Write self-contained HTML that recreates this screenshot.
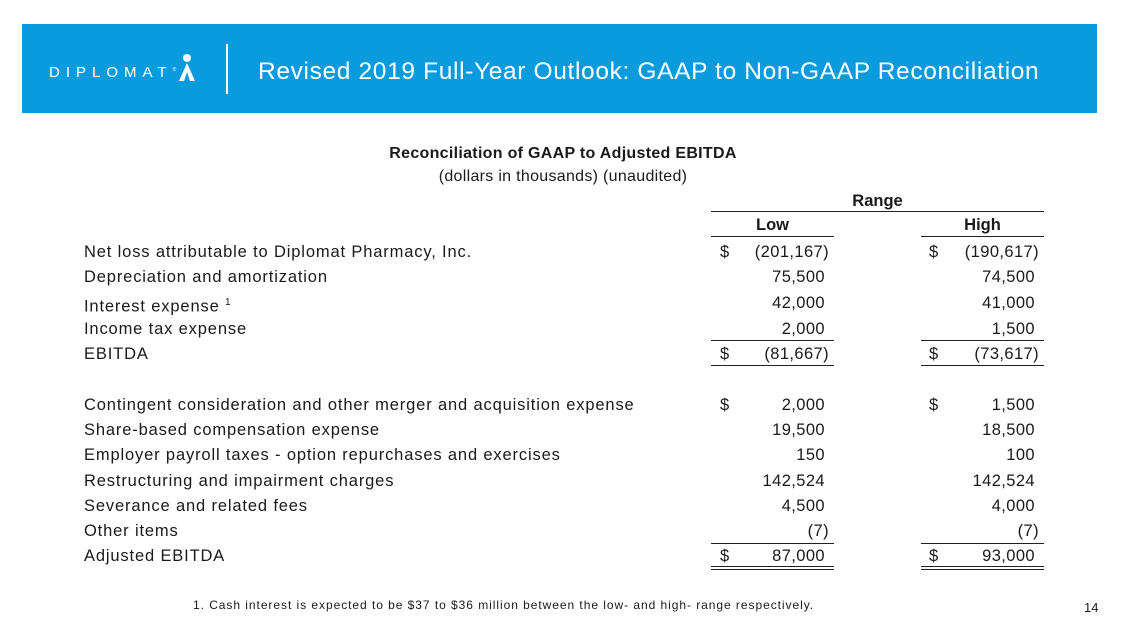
<!DOCTYPE html>
<html><head><meta charset="utf-8"><style>
body{margin:0;width:1125px;height:635px;background:#fff;position:relative;overflow:hidden;font-family:"Liberation Sans",sans-serif;color:#1a1a1a}
.a{position:absolute;white-space:nowrap}
.banner{position:absolute;left:22px;top:24px;width:1075px;height:89px;background:#0a9ade}
.r{font-size:16.5px;line-height:20px}
.ln{position:absolute;height:0;border-top:1.5px solid #222}
</style></head><body>
<div class="banner"></div>
<div class="a" style="left:49px;top:64px;color:#fff;font-size:15px;letter-spacing:6px">DIPLOMAT<sup style="font-size:5px;letter-spacing:0">®</sup></div>
<svg class="a" style="left:177px;top:52px" width="20" height="30" viewBox="0 0 20 30"><circle cx="10" cy="6" r="4" fill="#fff"/><path d="M10 11 L2 29 L7 29 L10 20 L13 29 L18 29 Z" fill="#fff"/></svg>
<div class="a" style="left:226px;top:44px;width:1.5px;height:50px;background:#fff"></div>
<div class="a" style="left:258px;top:58px;color:#fff;font-size:24.5px;letter-spacing:0.65px">Revised 2019 Full-Year Outlook: GAAP to Non-GAAP Reconciliation</div>
<div class="a" style="left:0;width:1126px;text-align:center;top:145px;font-size:16px;font-weight:bold;letter-spacing:0.3px">Reconciliation of GAAP to Adjusted EBITDA</div>
<div class="a" style="left:0;width:1126px;text-align:center;top:168px;font-size:16px;letter-spacing:0.3px">(dollars in thousands) (unaudited)</div>
<div class="a" style="left:711px;width:333px;text-align:center;top:192px;font-size:16.5px;font-weight:bold">Range</div>
<div class="ln" style="left:711px;width:333px;top:211px"></div>
<div class="a" style="left:711px;width:123px;text-align:center;top:216px;font-size:16.5px;font-weight:bold">Low</div>
<div class="a" style="left:921px;width:123px;text-align:center;top:216px;font-size:16.5px;font-weight:bold">High</div>
<div class="ln" style="left:711px;width:123px;top:236px"></div>
<div class="ln" style="left:921px;width:123px;top:236px"></div>
<div class="ln" style="left:711px;width:123px;top:340px"></div>
<div class="ln" style="left:921px;width:123px;top:340px"></div>
<div class="ln" style="left:711px;width:123px;top:365px"></div>
<div class="ln" style="left:921px;width:123px;top:365px"></div>
<div class="ln" style="left:711px;width:123px;top:543px"></div>
<div class="ln" style="left:921px;width:123px;top:543px"></div>
<div class="ln" style="left:711px;width:123px;top:566px"></div>
<div class="ln" style="left:921px;width:123px;top:566px"></div>
<div class="ln" style="left:711px;width:123px;top:569px"></div>
<div class="ln" style="left:921px;width:123px;top:569px"></div>
<div id="rows"></div>
<div class="a" style="left:193px;top:598px;font-size:12px;letter-spacing:0.95px">1. Cash interest is expected to be $37 to $36 million between the low- and high- range respectively.</div>
<div class="a" style="left:1084px;top:600px;font-size:13px">14</div>
<script>
const labels=["Net loss attributable to Diplomat Pharmacy, Inc.","Depreciation and amortization","Interest expense","Income tax expense","EBITDA","Contingent consideration and other merger and acquisition expense","Share-based compensation expense","Employer payroll taxes - option repurchases and exercises","Restructuring and impairment charges","Severance and related fees","Other items","Adjusted EBITDA"];
const lows=["(201,167)","75,500","42,000","2,000","(81,667)","2,000","19,500","150","142,524","4,500","(7)","87,000"];
const highs=["(190,617)","74,500","41,000","1,500","(73,617)","1,500","18,500","100","142,524","4,000","(7)","93,000"];
const dollar=[1,0,0,0,1,1,0,0,0,0,0,1];
const ys=[252,277,303,329,354,405,430,455,481,506,531,556];
const c=document.getElementById('rows');
function add(name,html,style){const d=document.createElement('div');d.className='a r';


d.innerHTML=html;d.style.cssText=style;c.appendChild(d);}
labels.forEach((l,i)=>{const t=ys[i]-10;
add('row-label',l+(i==2?' <sup style="font-size:10px">1</sup>':''),'left:84px;top:'+t+'px;letter-spacing:0.85px');
if(dollar[i]){add('dollar-sign','$','left:720px;top:'+t+'px');add('dollar-sign','$','left:929px;top:'+t+'px');}
const pl=lows[i].startsWith('(')?'0':'4px',ph=highs[i].startsWith('(')?'0':'4px';
add('low-value',lows[i],'left:709px;top:'+t+'px;width:120px;text-align:right;letter-spacing:0.4px;padding-right:'+pl+';box-sizing:border-box');
add('high-value',highs[i],'left:919px;top:'+t+'px;width:120px;text-align:right;letter-spacing:0.4px;padding-right:'+ph+';box-sizing:border-box');
});
</script>
</body></html>
